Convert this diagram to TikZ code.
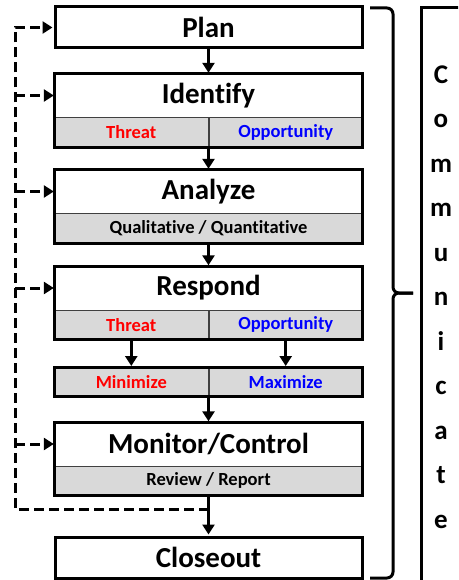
\documentclass[tikz,border=0pt]{standalone}
\usepackage{fontspec}
\setmainfont{Carlito}[Ligatures=CommonOff]
\usetikzlibrary{arrows.meta}
\begin{document}
\begin{tikzpicture}
[x=1pt, y=-1pt,
box/.style={draw, line width=3pt, fill=white, minimum width=307pt, minimum height=41pt, inner sep=0pt, font=\bfseries\fontsize{29}{30}\selectfont},
head/.style={minimum width=307pt, minimum height=43pt, inner sep=0pt, font=\bfseries\fontsize{29}{30}\selectfont},
strip/.style={draw=black!75, line width=0.9pt, fill=black!15, minimum width=307pt, minimum height=29pt, inner sep=0pt, font=\bfseries\fontsize{18.5}{20}\selectfont},
half/.style={strip, minimum width=153.5pt},
frame/.style={draw, line width=3pt},
flow/.style={line width=3pt, shorten >=1pt, -{Triangle[width=12pt,length=10pt]}},
back/.style={line width=3pt, dash pattern=on 10pt off 5pt, shorten >=1pt, -{Triangle[width=12pt,length=10pt]}},
brace/.style={line width=3pt, rounded corners=6pt}
]
\useasboundingbox (0,0) rectangle (458,580);
\clip (0,0) rectangle (458,580);

%Nodes
\node[box]  (plan)     at (208.5,27.5)   {Plan};

\node[head] (ident)    at (208.5,95.5)   {Identify};
\node[half, anchor=north east] (idthreat) at (ident.south) {\color{red}Threat};
\node[half, anchor=north west] (idopp)    at (ident.south) {\color{blue}Opportunity};
\draw[frame] (ident.north west) rectangle (idopp.south east);

\node[head] (analyze)  at (208.5,191.5)  {Analyze};
\node[strip, anchor=north] (anstrip) at (analyze.south) {Qualitative / Quantitative};
\draw[frame] (analyze.north west) rectangle (anstrip.south east);

\node[head] (respond)  at (208.5,288)    {Respond};
\node[half, anchor=north east] (rsthreat) at (respond.south) {\color{red}Threat};
\node[half, anchor=north west] (rsopp)    at (respond.south) {\color{blue}Opportunity};
\draw[frame] (respond.north west) rectangle (rsopp.south east);

\node[half, anchor=north east] (minim) at (208.5,367) {\color{red}Minimize};
\node[half, anchor=north west] (maxim) at (208.5,367) {\color{blue}Maximize};
\draw[frame] (minim.north west) rectangle (maxim.south east);

\node[head] (monitor)  at (208.5,444)    {Monitor/Control};
\node[strip, anchor=north] (monstrip) at (monitor.south) {Review / Report};
\draw[frame] (monitor.north west) rectangle (monstrip.south east);

\node[box]  (closeout) at (208.5,557.5)  {Closeout};

\node[font=\bfseries\fontsize{27}{44.5}\selectfont, align=center, inner sep=0pt]
  (comm) at (441,297) {C\\o\\m\\m\\u\\n\\i\\c\\a\\t\\e};

\coordinate (join) at (208.5,509);
\coordinate (rail) at (15,509);

%Lines
\draw[flow] (plan) -- (ident);
\draw[flow] (idthreat.south east) -- (analyze.north);
\draw[flow] (anstrip) -- (respond);
\draw[flow] (rsthreat) -- (minim);
\draw[flow] (rsopp) -- (maxim);
\draw[flow] (minim.south east) -- (monitor.north);
\draw[flow] (monstrip) -- (closeout);

\draw[back] (join) -- (rail) |- (plan.west);
\draw[back] (rail |- ident.west)   -- (ident.west);
\draw[back] (rail |- analyze.west) -- (analyze.west);
\draw[back] (rail |- respond.west) -- (respond.west);
\draw[back] (rail |- monitor.west) -- (monitor.west);

%Brace and side box
\draw[brace] (370,8) -| (393,293) -- (413,293);
\draw[brace] (413,293) -- (393,293) |- (370,578);
\draw[line width=3pt] (470,8) -| (421,590);
\end{tikzpicture}
\end{document}
